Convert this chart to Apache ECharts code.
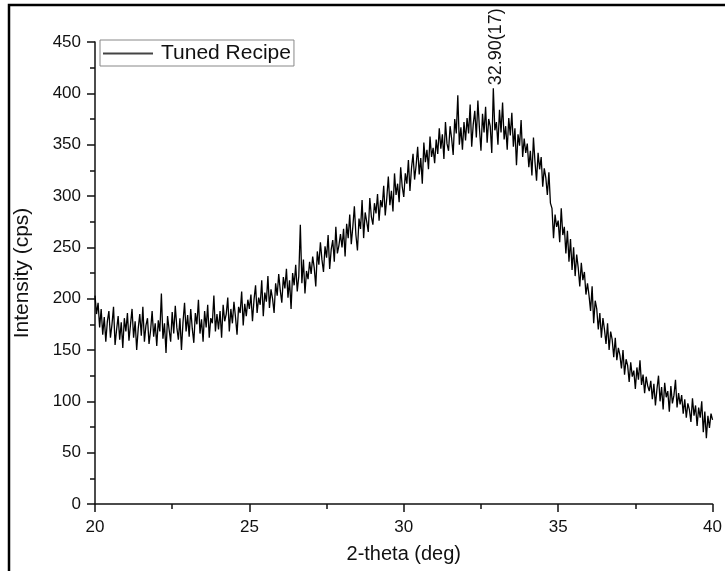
<!DOCTYPE html>
<html>
<head>
<meta charset="utf-8">
<script src="https://cdn.jsdelivr.net/npm/echarts@6/dist/echarts.min.js"></script>
<style>
html,body{margin:0;padding:0;background:#fff;}
#chart{width:725px;height:571px;}
</style>
</head>
<body>
<div id="chart"></div>
<script>
// 2-theta start / step (deg) and intensities (cps)
const thetaStart = 20;
const thetaStep = 0.05;
const intensity = [
  203,185,196,172,190,165,182,158,178,188,162,175,192,155,170,183,160,177,152,181,
  168,186,159,175,190,162,178,150,171,185,164,192,158,174,181,156,169,188,163,176,
  154,179,168,205,161,176,147,183,170,158,187,166,193,172,160,181,150,177,196,168,
  184,163,190,171,157,186,175,199,166,180,158,188,172,194,162,181,176,203,168,185,
  170,188,162,194,178,185,201,168,190,176,197,182,165,192,186,207,174,195,183,199,
  190,204,178,199,213,186,201,194,218,183,206,197,222,191,209,200,186,215,203,224,
  208,196,221,210,229,201,218,190,225,213,233,207,222,272,215,238,205,227,219,236,
  224,241,230,212,246,233,255,238,226,251,240,262,229,248,257,236,270,244,252,263,
  250,268,241,273,259,282,253,270,290,262,247,278,268,296,259,284,275,265,298,280,
  272,293,283,302,276,296,289,310,281,298,319,291,305,285,322,301,312,294,328,309,
  299,322,312,335,305,327,341,316,330,348,321,337,312,352,333,345,326,358,338,347,
  332,355,341,366,346,360,336,372,351,344,368,356,340,375,361,398,350,367,345,372,
  354,376,361,389,348,370,383,357,393,366,344,380,362,387,352,375,368,342,405,364,
  372,350,384,362,391,355,368,345,376,359,381,348,366,330,360,349,374,338,356,342,
  351,328,344,320,357,333,315,342,326,338,309,327,318,301,323,293,288,259,282,270,
  276,255,288,262,270,244,266,236,258,228,250,222,243,230,212,235,218,226,204,215,
  203,188,212,176,198,190,170,186,162,181,170,156,176,150,168,160,143,162,140,152,
  145,132,150,126,141,135,119,138,124,130,112,133,121,140,116,126,108,124,115,110,
  120,102,117,96,112,125,100,114,92,118,104,110,90,115,98,106,121,94,108,97,
  106,88,102,84,98,92,80,103,86,96,76,94,84,100,70,90,64,86,74,88,
  82
];
const seriesName = 'Tuned Recipe';
const peakTheta = 32.90;
const peakValue = 405;
const peakLabel = '32.90(17)';
const xTicks = [20, 25, 30, 35, 40];
const yTicks = [0, 50, 100, 150, 200, 250, 300, 350, 400, 450];

const data = intensity.map((v, i) => [+(thetaStart + i * thetaStep).toFixed(2), v]);

const FONT = 'Liberation Sans, Arial, sans-serif';
const chart = echarts.init(document.getElementById('chart'), null, {renderer: 'canvas'});

const option = {
  backgroundColor: '#fff',
  animation: false,
  grid: {left: 95, right: 10, top: 42, bottom: 67, containLabel: false},
  legend: {
    show: true,
    left: 100, top: 40,
    orient: 'horizontal',
    itemWidth: 50, itemHeight: 2,
    itemGap: 4,
    padding: [3, 3, 2, 3],
    borderColor: '#888', borderWidth: 1,
    icon: 'rect',
    itemStyle: {color: '#444'},
    textStyle: {fontFamily: FONT, fontSize: 21, color: '#111', padding: [0, 0, 0, 3]},
    data: [seriesName]
  },
  xAxis: {
    type: 'value',
    min: xTicks[0], max: xTicks[xTicks.length - 1], interval: 5,
    name: '2-theta (deg)', nameLocation: 'middle', nameGap: 40,
    nameTextStyle: {fontFamily: FONT, fontSize: 20, color: '#111'},
    axisLine: {show: true, onZero: false, lineStyle: {color: '#111', width: 1.5}},
    axisTick: {show: true, inside: false, length: 8, lineStyle: {color: '#111', width: 1.5}},
    minorTick: {show: true, splitNumber: 2, length: 5, lineStyle: {color: '#111', width: 1.5}},
    axisLabel: {fontFamily: FONT, fontSize: 17, color: '#111', margin: 15},
    splitLine: {show: false}
  },
  yAxis: {
    type: 'value',
    min: yTicks[0], max: yTicks[yTicks.length - 1], interval: 50,
    name: 'Intensity (cps)', nameLocation: 'middle', nameGap: 62,
    nameTextStyle: {fontFamily: FONT, fontSize: 21, color: '#111'},
    axisLine: {show: true, onZero: false, lineStyle: {color: '#111', width: 1.5}},
    axisTick: {show: true, inside: false, length: 8, lineStyle: {color: '#111', width: 1.5}},
    minorTick: {show: true, splitNumber: 2, length: 5, lineStyle: {color: '#111', width: 1.5}},
    axisLabel: {fontFamily: FONT, fontSize: 17, color: '#111', margin: 14},
    splitLine: {show: false}
  },
  series: [{
    name: seriesName,
    type: 'line',
    data: data,
    symbol: 'none',
    showSymbol: false,
    lineStyle: {color: '#000', width: 1.3},
    itemStyle: {color: '#444'},
    clip: true
  }]
};
chart.setOption(option);

const p = chart.convertToPixel({gridIndex: 0}, [peakTheta, peakValue]);
chart.setOption({
  graphic: [
    {
      type: 'rect', silent: true,
      shape: {x: 9, y: 5, width: 760, height: 620},
      style: {fill: 'none', stroke: '#000', lineWidth: 2.5},
      z: 100
    },
    {
      type: 'text', silent: true,
      x: p[0] + 3, y: p[1] - 3,
      rotation: Math.PI / 2,
      style: {
        text: peakLabel, fontFamily: FONT, fontSize: 18, fill: '#111',
        align: 'left', verticalAlign: 'middle'
      },
      z: 100
    }
  ]
});
</script>
</body>
</html>
